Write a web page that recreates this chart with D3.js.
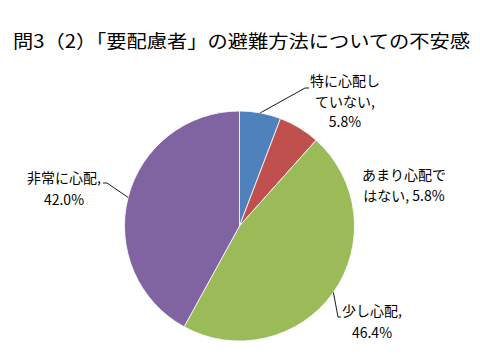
<!DOCTYPE html>
<html><head><meta charset="utf-8">
<script src="https://cdn.jsdelivr.net/npm/d3@7"></script>
<style>body{margin:0;background:#fff}svg{display:block}</style>
</head><body>
<script>
const title = "問3（2）「要配慮者」の避難方法についての不安感";
const categories = ["特に心配していない", "あまり心配ではない", "少し心配", "非常に心配"];
const values = [5.8, 5.8, 46.4, 42.0];
const colors = ["#4F81BD", "#C0504D", "#9BBB59", "#8064A2"];
const labelLines = [
  ["特に心配し", "ていない,", "5.8%"],
  ["あまり心配で", "はない, 5.8%"],
  ["少し心配,", "46.4%"],
  ["非常に心配,", "42.0%"]
];

const W = 480, H = 360;
const cx = 239.5, cy = 226, R = 115;
const jp = "'Noto Sans CJK JP','Noto Sans',sans-serif";

const svg = d3.select("body").append("svg").attr("width", W).attr("height", H);

svg.append("text").attr("x", 13).attr("y", 48)
  .attr("font-family", jp).attr("font-size", 18).attr("fill", "#000")
  .attr("textLength", 457).attr("lengthAdjust", "spacingAndGlyphs")
  .text(title);

const pie = d3.pie().sort(null).value(d => d).startAngle(0).endAngle(2 * Math.PI);
const arcs = pie(values);
const arc = d3.arc().innerRadius(0).outerRadius(R);

const g = svg.append("g").attr("transform", `translate(${cx},${cy})`);
g.selectAll("path").data(arcs).enter().append("path")
  .attr("d", arc).attr("fill", (d, i) => colors[i])
  .attr("stroke", "#fff").attr("stroke-width", 0.8);

// label layout per slice (same order as categories): center x, first baseline, line offsets, leader end points
const layout = [
  {x: 345, y: 86, steps: [0, 21, 41], leader: [[305, 88], [309, 88]]},
  {x: 404, y: 180, steps: [0, 21], leader: null},
  {x: 372, y: 316, steps: [0, 22], leader: [[338, 317], [341, 317]]},
  {x: 64, y: 183, steps: [0, 22], leader: [[107, 183], [103, 183]]}
];

layout.forEach((L, i) => {
  const a = arcs[i];
  const mid = (a.startAngle + a.endAngle) / 2;
  if (L.leader) {
    const pts = [[cx + R * Math.sin(mid), cy - R * Math.cos(mid)], L.leader[0], L.leader[1]];
    svg.append("polyline")
      .attr("points", pts.map(p => p[0].toFixed(1) + "," + p[1].toFixed(1)).join(" "))
      .attr("fill", "none").attr("stroke", "#000").attr("stroke-width", 0.9);
  }
  const t = svg.append("text").attr("font-family", jp).attr("font-size", 14)
    .attr("fill", "#000").attr("text-anchor", "middle");
  labelLines[i].forEach((s, k) => {
    t.append("tspan").attr("x", L.x).attr("y", L.y + L.steps[k]).text(s);
  });
});
</script>
</body></html>
